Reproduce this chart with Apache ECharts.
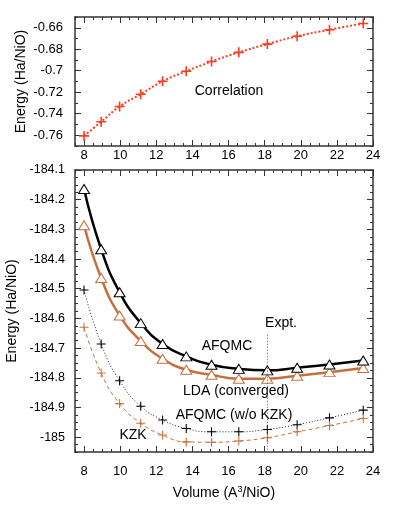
<!DOCTYPE html>
<html>
<head>
<meta charset="utf-8">
<script src="https://cdn.jsdelivr.net/npm/echarts@6/dist/echarts.min.js"></script>
<style>
html, body { margin: 0; padding: 0; background: #fff; }
#chart { width: 399px; height: 507px; }
</style>
</head>
<body>
<div id="chart"></div>
<script>
// volumes (A^3/NiO), shared by every curve
const volumes = [8.0, 8.95, 9.97, 11.14, 12.35, 13.66, 15.06, 16.57, 18.15, 19.8, 21.59, 23.46];
// top panel
const correlation = [-0.7606, -0.7475, -0.7332, -0.7218, -0.7097, -0.7005, -0.6914, -0.6829, -0.6752, -0.6679, -0.6618, -0.656];
// bottom panel
const afqmc = [-184.164, -184.367, -184.512, -184.616, -184.686, -184.728, -184.756, -184.770, -184.775, -184.766, -184.755, -184.742];
const lda = [-184.286, -184.464, -184.590, -184.676, -184.736, -184.773, -184.790, -184.803, -184.803, -184.793, -184.781, -184.767];
const afqmcNoKzk = [-184.504, -184.686, -184.810, -184.896, -184.942, -184.971, -184.982, -184.982, -184.974, -184.958, -184.935, -184.909];
const kzk = [-184.630, -184.784, -184.887, -184.953, -184.993, -185.016, -185.017, -185.013, -185.002, -184.982, -184.961, -184.937];
const exptVolume = 18.13;
const exptTop = -184.655;

const xTicks = [8, 10, 12, 14, 16, 18, 20, 22, 24];
const corrTicks = [-0.76, -0.74, -0.72, -0.7, -0.68, -0.66];
const energyTicks = [-185, -184.9, -184.8, -184.7, -184.6, -184.5, -184.4, -184.3, -184.2, -184.1];

const font = '"Liberation Sans", Arial, Helvetica, sans-serif';
const plus = 'path://M4.4,0H5.6V4.4H10V5.6H5.6V10H4.4V5.6H0V4.4H4.4Z';
const plusThick = 'path://M4.2,0H5.8V4.2H10V5.8H5.8V10H4.2V5.8H0V4.2H4.2Z';
const orange = '#c4703e';
const red = '#ff3b1f';

function pairs(ys) {
  return volumes.map((v, i) => [v, ys[i]]);
}

function fmt(majors, step) {
  return v => majors.some(m => Math.abs(m - v) < step / 10) ? String(+v.toFixed(2)) : '';
}

// box axes: short ticks every step, long ticks on labelled values, mirrored on the far side
function makeAxes(dim, gridIndex, min, max, step, majors, label, name) {
  const sides = dim === 'x' ? ['bottom', 'top'] : ['left', 'right'];
  const out = [];
  sides.forEach((pos, k) => {
    out.push(Object.assign({
      type: 'value', gridIndex: gridIndex, position: pos, min: min, max: max, interval: step,
      axisLine: { show: true, onZero: false, lineStyle: { color: '#333', width: 1.5 } },
      axisTick: { inside: true, length: 3, lineStyle: { color: '#333', width: 1 } },
      axisLabel: k === 0 ? Object.assign({ formatter: fmt(majors, step), color: '#000', fontFamily: font }, label) : { show: false },
      splitLine: { show: false }
    }, k === 0 ? name : {}));
    out.push({
      type: 'value', gridIndex: gridIndex, position: pos, min: min, max: max,
      axisLine: { show: false, onZero: false },
      axisTick: { inside: true, length: 6, customValues: majors, lineStyle: { color: '#333', width: 1 } },
      axisLabel: { show: false },
      splitLine: { show: false }
    });
  });
  return out;
}

const energyName = {
  name: 'Energy (Ha/NiO)', nameLocation: 'middle', nameMoveOverlap: false,
  nameTextStyle: { fontSize: 14, color: '#000', fontFamily: font }
};

let myChart = echarts.init(document.getElementById('chart'));
myChart.setOption({
  animation: false,
  backgroundColor: '#fff',
  grid: [
    { left: 75, top: 17, right: 26, height: 129, containLabel: false, outerBoundsMode: 'none' },
    { left: 75, top: 170, right: 26, bottom: 55, containLabel: false, outerBoundsMode: 'none' }
  ],
  xAxis: [].concat(
    makeAxes('x', 0, 7.5, 24, 0.5, xTicks, { fontSize: 13, margin: 3 }, {}),
    makeAxes('x', 1, 7.5, 24, 0.5, xTicks, { fontSize: 13, margin: 13 }, {
      name: '{a|Volume (A}{s|3}{a|/NiO)}', nameLocation: 'middle', nameGap: 33, nameMoveOverlap: false,
      nameTextStyle: {
        color: '#000', fontFamily: font, fontSize: 14,
        rich: {
          a: { fontSize: 14, fontFamily: font, color: '#000' },
          s: { fontSize: 9, fontFamily: font, color: '#000', padding: [0, 0, 8, 0] }
        }
      }
    })
  ),
  yAxis: [].concat(
    makeAxes('y', 0, -0.77, -0.65, 0.01, corrTicks, { fontSize: 13, margin: 12 }, Object.assign({ nameGap: 47 }, energyName)),
    makeAxes('y', 1, -185.05, -184.1, 0.025, energyTicks, { fontSize: 12.5, margin: 10 }, Object.assign({ nameGap: 56 }, energyName))
  ),
  series: [
    {
      name: 'Correlation', type: 'line', xAxisIndex: 0, yAxisIndex: 0,
      data: pairs(correlation), smooth: true,
      symbol: plusThick, symbolSize: 10,
      lineStyle: { color: red, width: 2, type: [2, 2] },
      itemStyle: { color: red }
    },
    {
      name: 'AFQMC (w/o KZK)', type: 'line', xAxisIndex: 4, yAxisIndex: 4,
      data: pairs(afqmcNoKzk), smooth: true,
      symbol: plus, symbolSize: 9,
      lineStyle: { color: '#222', width: 1, type: [1, 2] },
      itemStyle: { color: '#000' }
    },
    {
      name: 'KZK', type: 'line', xAxisIndex: 4, yAxisIndex: 4,
      data: pairs(kzk), smooth: true,
      symbol: plus, symbolSize: 9,
      lineStyle: { color: orange, width: 1, type: [4, 3] },
      itemStyle: { color: orange }
    },
    {
      name: 'LDA (converged)', type: 'line', xAxisIndex: 4, yAxisIndex: 4,
      data: pairs(lda), smooth: true,
      symbol: 'triangle', symbolSize: [11, 9],
      lineStyle: { color: orange, width: 2.5 },
      itemStyle: { color: '#fff', borderColor: orange, borderWidth: 1 }
    },
    {
      name: 'AFQMC', type: 'line', xAxisIndex: 4, yAxisIndex: 4,
      data: pairs(afqmc), smooth: true,
      symbol: 'triangle', symbolSize: [11, 9],
      lineStyle: { color: '#000', width: 2.5 },
      itemStyle: { color: '#fff', borderColor: '#000', borderWidth: 1 },
      markLine: {
        silent: true, symbol: 'none', label: { show: false },
        lineStyle: { color: '#555', width: 1, type: [1, 2] },
        data: [[{ coord: [exptVolume, exptTop] }, { coord: [exptVolume, -185.05] }]]
      }
    }
  ],
  graphic: [
    { type: 'text', x: 229, y: 91, style: { text: 'Correlation', font: '14px ' + font, fill: '#000', align: 'center', verticalAlign: 'middle' } },
    { type: 'text', x: 281, y: 323, style: { text: 'Expt.', font: '14px ' + font, fill: '#000', align: 'center', verticalAlign: 'middle' } },
    { type: 'text', x: 227, y: 346, style: { text: 'AFQMC', font: '14px ' + font, fill: '#000', align: 'center', verticalAlign: 'middle' } },
    { type: 'text', x: 236, y: 391, style: { text: 'LDA (converged)', font: '14px ' + font, fill: '#000', align: 'center', verticalAlign: 'middle' } },
    { type: 'text', x: 234, y: 415, style: { text: 'AFQMC (w/o KZK)', font: '14px ' + font, fill: '#000', align: 'center', verticalAlign: 'middle' } },
    { type: 'text', x: 133, y: 435, style: { text: 'KZK', font: '14px ' + font, fill: '#000', align: 'center', verticalAlign: 'middle' } }
  ]
});
</script>
</body>
</html>
